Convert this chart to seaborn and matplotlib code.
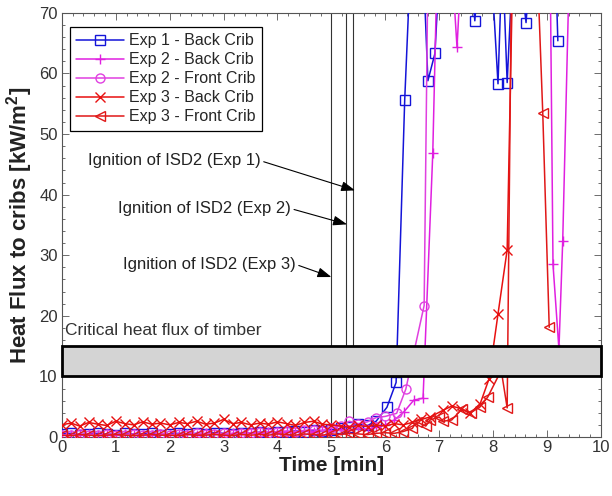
import matplotlib
matplotlib.use("Agg")
import matplotlib.pyplot as plt
import seaborn as sns
from matplotlib.patches import Rectangle
from matplotlib.ticker import MultipleLocator

# ---------------- data ----------------
t_grid = [0, 0.17, 0.33, 0.5, 0.67, 0.83, 1.0, 1.17, 1.33, 1.5, 1.67, 1.83,
          2.0, 2.17, 2.33, 2.5, 2.67, 2.83, 3.0, 3.17, 3.33, 3.5, 3.67, 3.83,
          4.0, 4.17, 4.33, 4.5, 4.67, 4.83, 5.0, 5.17, 5.33, 5.5, 5.67, 5.83]

exp1_back_base = [0.5, 0.6, 0.4, 0.5, 0.6, 0.5, 0.4, 0.6, 0.5, 0.5, 0.6, 0.4,
                  0.5, 0.6, 0.5, 0.6, 0.5, 0.7, 0.6, 0.5, 0.7, 0.6, 0.8, 0.7,
                  0.9, 0.8, 1.0, 0.9, 1.1, 1.0, 1.2, 1.4, 1.6, 2.1, 1.9, 2.6]
exp1_back_tail_t = [6.03, 6.2, 6.36, 6.5, 6.65, 6.79, 6.92, 7.05, 7.2, 7.4, 7.55,
                    7.66, 7.8, 7.95, 8.09, 8.17, 8.26, 8.4, 8.61, 8.75, 9.0, 9.15, 9.2]
exp1_back_tail_v = [4.9, 9.0, 55.7, 85, 90, 58.8, 63.3, 85, 90, 88, 80,
                    68.7, 85, 80, 58.3, 80, 58.5, 85, 68.4, 85, 88, 80, 65.4]

exp2_back_base = [0.3, 0.4, 0.3, 0.5, 0.4, 0.3, 0.4, 0.5, 0.3, 0.4, 0.4, 0.5,
                  0.3, 0.4, 0.5, 0.4, 0.6, 0.5, 0.4, 0.6, 0.5, 0.7, 0.6, 0.8,
                  0.7, 0.9, 0.8, 1.0, 0.9, 1.1, 1.0, 1.2, 1.1, 1.4, 1.3, 1.6]
exp2_back_tail_t = [6.0, 6.17, 6.35, 6.53, 6.7, 6.88, 6.98, 7.15, 7.33, 7.45,
                    7.7, 8.0, 8.3, 8.6, 8.9, 9.05, 9.11, 9.22, 9.29, 9.42]
exp2_back_tail_v = [2.0, 2.8, 4.2, 6.1, 6.4, 46.8, 85, 90, 64.3, 85,
                    90, 88, 92, 90, 88, 85, 28.5, 14.5, 32.3, 80]

exp2_front_base = [0.4, 0.3, 0.5, 0.4, 0.3, 0.5, 0.4, 0.4, 0.5, 0.3, 0.4, 0.5,
                   0.4, 0.5, 0.4, 0.6, 0.5, 0.5, 0.6, 0.5, 0.7, 0.6, 0.8, 0.7,
                   0.9, 1.0, 0.9, 1.1, 1.2, 1.0, 1.5, 1.8, 2.6, 2.2, 2.5, 3.2]
exp2_front_tail_t = [6.0, 6.21, 6.38, 6.72, 6.8, 7.0, 7.2, 7.5]
exp2_front_tail_v = [3.4, 3.9, 7.9, 21.7, 85, 90, 88, 85]

exp3_back_base = [2.0, 2.3, 1.8, 2.4, 2.1, 1.9, 2.6, 2.2, 2.0, 2.5, 2.1, 2.3,
                  2.0, 2.4, 2.2, 2.6, 2.1, 2.3, 2.9, 2.2, 2.4, 2.0, 2.3, 2.1,
                  2.5, 2.2, 1.9, 2.4, 2.6, 2.1, 2.0, 1.8, 1.6, 1.9, 1.7, 2.0]
exp3_back_tail_t = [6.0, 6.17, 6.33, 6.5, 6.67, 6.83, 7.07, 7.23, 7.4, 7.57,
                    7.76, 7.92, 8.09, 8.26, 8.38, 8.6, 8.8, 9.0, 9.08]
exp3_back_tail_v = [1.8, 2.2, 2.0, 2.4, 2.9, 3.3, 4.4, 5.1, 4.7, 3.9,
                    5.5, 9.5, 20.3, 30.9, 85, 90, 88, 85, 80]

exp3_front_base = [0.3, 0.2, 0.4, 0.3, 0.2, 0.3, 0.4, 0.3, 0.2, 0.3, 0.4, 0.3,
                   0.3, 0.2, 0.4, 0.3, 0.3, 0.4, 0.3, 0.2, 0.4, 0.3, 0.4, 0.3,
                   0.5, 0.4, 0.3, 0.5, 0.4, 0.3, 0.5, 0.4, 0.6, 0.5, 0.4, 0.6]
exp3_front_tail_t = [6.0, 6.17, 6.33, 6.5, 6.58, 6.75, 6.83, 7.0, 7.07, 7.23, 7.42,
                     7.58, 7.75, 7.9, 8.15, 8.26, 8.35, 8.6, 8.81, 8.92, 9.04]
exp3_front_tail_v = [0.7, 0.6, 0.9, 1.4, 2.5, 1.8, 2.8, 3.3, 2.6, 2.8, 4.6,
                     4.0, 4.9, 6.6, 11.0, 4.8, 85, 90, 80, 53.5, 18.1]

series_names = ["Exp 1 - Back Crib", "Exp 2 - Back Crib", "Exp 2 - Front Crib",
                "Exp 3 - Back Crib", "Exp 3 - Front Crib"]

ignition_times = [5.0, 5.28, 5.4]
ignition_labels = ["Ignition of ISD2 (Exp 1)", "Ignition of ISD2 (Exp 2)",
                   "Ignition of ISD2 (Exp 3)"]
critical_low, critical_high = 10, 15
critical_label = "Critical heat flux of timber"

# ---------------- style ----------------
sns.set_style("ticks")
plt.rcParams["font.family"] = ["Liberation Sans", "DejaVu Sans"]
plt.rcParams["mathtext.fontset"] = "custom"
plt.rcParams["mathtext.rm"] = "Liberation Sans"
plt.rcParams["mathtext.bf"] = "Liberation Sans:bold"

fig = plt.figure(figsize=(6.12, 4.96), dpi=100)
ax = fig.add_axes([0.101, 0.119, 0.881, 0.855])

series = [
    (t_grid + exp1_back_tail_t, exp1_back_base + exp1_back_tail_v, "#1414d8", "s"),
    (t_grid + exp2_back_tail_t, exp2_back_base + exp2_back_tail_v, "#e020e0", "+"),
    (t_grid + exp2_front_tail_t, exp2_front_base + exp2_front_tail_v, "#e040e0", "o"),
    (t_grid + exp3_back_tail_t, exp3_back_base + exp3_back_tail_v, "#e81010", "x"),
    (t_grid + exp3_front_tail_t, exp3_front_base + exp3_front_tail_v, "#e01818", "<"),
]

for (tt, vv, col, mk), name in zip(series, series_names):
    sns.lineplot(x=tt, y=vv, ax=ax, color=col, marker=mk, markersize=6.5,
                 markerfacecolor="none", markeredgecolor=col, markeredgewidth=1.0,
                 linewidth=1.1, label=name, estimator=None, sort=False, zorder=3)

# ignition lines
for t in ignition_times:
    ax.axvline(t, color="#333333", lw=0.8, zorder=2)

# critical heat flux band
rect = Rectangle((0, critical_low), 10, critical_high - critical_low,
                 facecolor="#d4d4d4", edgecolor="black", lw=2.0, zorder=5,
                 clip_on=False)
ax.add_patch(rect)
ax.text(0.06, 17.5, critical_label, fontsize=12.5, color="#333333",
        ha="left", va="center", zorder=6)

# annotations
ann_text_pos = [(0.48, 45.6), (1.04, 37.7), (1.13, 28.5)]
ann_tip = [(5.44, 40.7), (5.29, 35.1), (5.0, 26.4)]
for lab, xytext, xy in zip(ignition_labels, ann_text_pos, ann_tip):
    ax.annotate(lab, xy=xy, xytext=xytext, fontsize=12, color="#222222",
                ha="left", va="center", zorder=6,
                arrowprops=dict(arrowstyle="-|>,head_length=0.7,head_width=0.25",
                                color="black", lw=0.8, mutation_scale=12,
                                relpos=(1.0, 0.5), shrinkA=0, shrinkB=0))

ax.set_xlim(0, 10)
ax.set_ylim(0, 70)
ax.xaxis.set_major_locator(MultipleLocator(1))
ax.xaxis.set_minor_locator(MultipleLocator(0.2))
ax.yaxis.set_major_locator(MultipleLocator(10))
ax.yaxis.set_minor_locator(MultipleLocator(2))
ax.tick_params(which="both", direction="in", top=True, right=True,
               colors="#555555", labelcolor="#333333", width=0.6)
ax.tick_params(which="major", length=5, labelsize=12, pad=3)
ax.tick_params(axis="x", which="major", pad=2)
ax.tick_params(which="minor", length=2.5)
for s in ax.spines.values():
    s.set_color("#555555")
    s.set_linewidth(0.8)

ax.set_xlabel("Time [min]", fontsize=15, fontweight="bold", color="#222222",
              labelpad=1)
ax.set_ylabel(r"Heat Flux to cribs [kW/m$^\mathbf{2}$]", fontsize=16,
              fontweight="bold", color="#222222", labelpad=3)

leg = ax.legend(loc="upper left", bbox_to_anchor=(0.015, 0.967), borderaxespad=0,
                fontsize=11.5, frameon=True, fancybox=False, framealpha=1,
                edgecolor="black", handlelength=3.0, labelspacing=0.25,
                handletextpad=0.3, borderpad=0.4)
leg.get_frame().set_linewidth(0.9)
leg.set_zorder(10)

fig.savefig("out.png", dpi=100)
